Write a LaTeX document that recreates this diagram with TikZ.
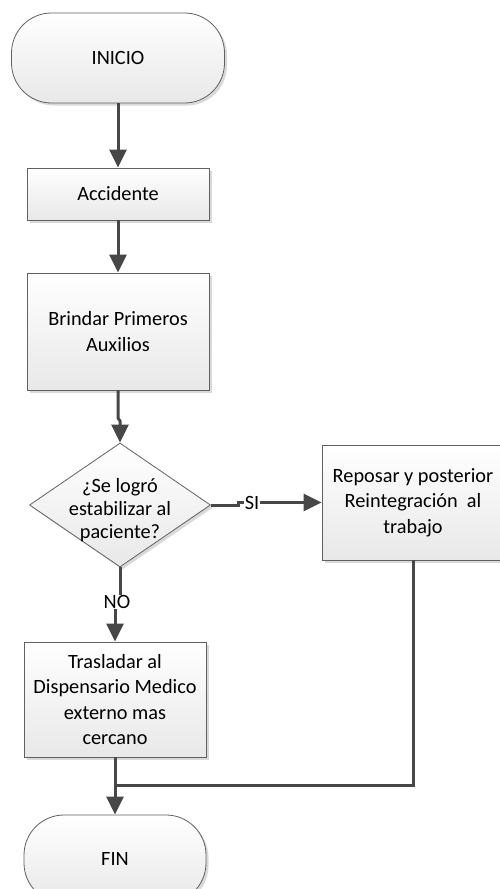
\documentclass[tikz,border=0pt]{standalone}
\usepackage{fontspec}
\setmainfont{Carlito}
\usetikzlibrary{shapes.geometric,arrows.meta,shadows}
\begin{document}
\begin{tikzpicture}[x=1pt,y=-1pt,
  base/.style={draw=black!62, line width=0.8pt, top color=white, bottom color=black!9,
    drop shadow={shadow xshift=2.5pt,shadow yshift=-2.5pt,fill=black!25,opacity=0.6},
    font=\fontsize{20.3}{25.5}\selectfont, align=center, inner sep=0pt},
  term/.style={base, rounded corners=40pt, minimum height=90pt},
  proc/.style={base, minimum width=182pt},
  decision/.style={base, diamond, minimum width=181pt, minimum height=124pt},
  conn/.style={draw=black!72, line width=3pt, -{Triangle[length=18pt,width=17pt]}},
  line/.style={draw=black!72, line width=3pt},
  lbl/.style={fill=white, inner sep=0.5pt, font=\fontsize{20.3}{25}\selectfont},
  qtxt/.style={align=center, inner sep=0pt, font=\fontsize{20.3}{23}\selectfont}
]
\useasboundingbox (0,0) rectangle (499,889);

\node[term, minimum width=213pt] (inicio) at (118,58) {INICIO};
\node[proc, minimum height=52pt] (accidente) at (118,194) {Accidente};
\node[proc, minimum height=117pt] (brindar) at (118,331.5) {Brindar Primeros\\Auxilios};
\node[decision] (q) at (120,505) {};
\node[qtxt] (qtext) at (120,510) {¿Se logró\\estabilizar al\\paciente?};
\node[proc, minimum height=115pt] (reposar) at (413,502.5) {Reposar y posterior\\Reintegración~ al\\trabajo};
\node[proc, minimum height=115pt] (trasladar) at (115,699.5) {Trasladar al\\Dispensario Medico\\externo mas\\cercano};
\node[term, minimum width=182pt, minimum height=88pt] (fin) at (115,859) {FIN};

\draw[conn] (inicio) -- (accidente);
\draw[conn] (accidente) -- (brindar);

\coordinate (j1) at (118,418);
\coordinate (j2) at (120,421);
\draw[conn] (brindar.south) -- (j1) -- (j2) -- (q.north);

\coordinate (s1) at (238,505);
\coordinate (s2) at (238,502.5);
\draw[conn] (q.east) -- (s1) -- (s2) -- (reposar.west);
\node[lbl] (si) at (252,503) {SI};

\coordinate (n1) at (120,600);
\coordinate (n2) at (115,600);
\draw[conn] (q.south) -- (n1) -- (n2) -- (trasladar.north);
\node[lbl] (no) at (117,602) {NO};

\coordinate (m) at (115,785);
\draw[line] (reposar.south) |- (m);
\draw[conn] (trasladar.south) -- (fin.north);
\end{tikzpicture}
\end{document}
